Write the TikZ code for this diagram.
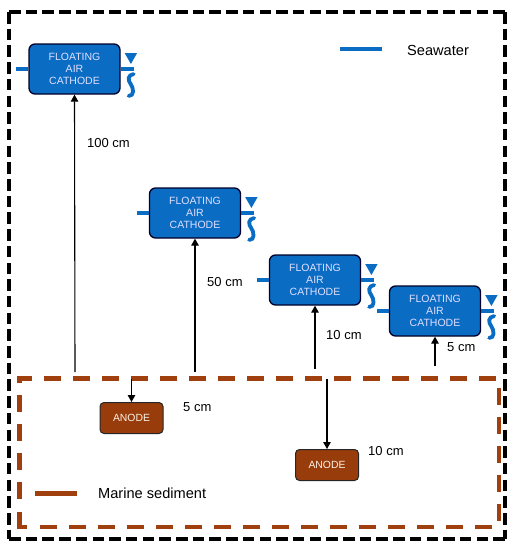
\documentclass[tikz,border=0pt]{standalone}
\usepackage{fontspec}
\setmainfont{Liberation Sans}
\usetikzlibrary{arrows.meta,calc}
\definecolor{blu}{HTML}{0B6CC4}
\definecolor{bro}{HTML}{A0400F}
\definecolor{anod}{HTML}{983C0C}
\tikzset{
 cath/.style={draw=black!85!blue,line width=1.3pt,fill=blu,rounded corners=6pt,minimum width=91pt,minimum height=50pt,inner sep=0pt,align=center,text=white!88!blue,font=\fontsize{10.5pt}{12.2pt}\selectfont},
 anodebox/.style={draw=black!85,line width=1pt,fill=anod,rounded corners=4pt,minimum width=63pt,minimum height=31pt,inner sep=0pt,text=white!90!orange,font=\fontsize{10.4pt}{11pt}\selectfont},
 lab/.style={inner sep=0pt,text=black,font=\fontsize{13pt}{14pt}\selectfont},
 leg/.style={inner sep=0pt,text=black,font=\fontsize{14.6pt}{16pt}\selectfont},
 arr/.style={-{Triangle[length=7pt,width=7.5pt]},line width=1.1pt,black},
 water/.style={blu,line width=3.8pt},
 sed/.style={bro,line width=4.3pt},
 blackframe/.style={draw=black,line width=4pt,dash pattern=on 11.5pt off 5.2pt},
}
\newcommand{\cathodeparts}[1]{%
 \draw[water] ($(#1.west)+(-12pt,0)$) -- (#1.west);
 \draw[water,line width=3.2pt] (#1.east) -- ++(13pt,0);
 \fill[blu] ($(#1.east)+(4pt,16pt)$) -- ++(12.5pt,0) -- ++(-6.25pt,-11pt) -- cycle;
 \draw[blu,line width=3.8pt,line cap=round] ($(#1.east)+(13pt,-5pt)$) .. controls ($(#1.east)+(7pt,-6pt)$) and ($(#1.east)+(7pt,-11pt)$) .. ($(#1.east)+(10pt,-15pt)$) .. controls ($(#1.east)+(13pt,-19pt)$) and ($(#1.east)+(14pt,-27pt)$) .. ($(#1.east)+(8pt,-27pt)$);
}
\begin{document}
\begin{tikzpicture}[x=1pt,y=-1pt]
\useasboundingbox (0,0) rectangle (519,550);
\coordinate (ftl) at (9,12);
\coordinate (ftr) at (505,12);
\coordinate (fbr) at (505,539);
\coordinate (fbl) at (9,539);
\draw[blackframe] (ftl) -- (ftr);
\draw[blackframe] (ftr) -- (fbr);
\draw[blackframe] (fbl) -- (fbr);
\draw[blackframe] (ftl) -- (fbl);

\foreach \k in {0,...,15} {\draw[sed] ({44+29*\k},378.5) -- ++(17,0);}
\draw[sed] (32,378.5) -- (19.5,378.5) -- (19.5,383);
\foreach \k in {0,...,3} {\draw[sed] (19.5,{395+29*\k}) -- ++(0,16.5);}
\draw[sed] (19.5,512) -- (19.5,527) -- (27,527);
\foreach \k in {0,...,15} {\draw[sed] ({40+29*\k},527) -- ++(17,0);}
\foreach \k in {0,...,4} {\draw[sed] (499,{388+29*\k}) -- ++(0,17);}

\node[cath] (c1) at (74.5,69) {FLOATING\\AIR\\CATHODE};
\node[cath] (c2) at (195,213) {FLOATING\\AIR\\CATHODE};
\node[cath] (c3) at (315,280) {FLOATING\\AIR\\CATHODE};
\node[cath] (c4) at (435,311) {FLOATING\\AIR\\CATHODE};
\cathodeparts{c1}
\cathodeparts{c2}
\cathodeparts{c3}
\cathodeparts{c4}

\node[anodebox] (a1) at (131.5,418) {ANODE};
\node[anodebox] (a2) at (327,465) {ANODE};

\coordinate (s1) at (75,372);
\coordinate (s2) at (195,372);
\coordinate (s3) at (315,369);
\coordinate (s4) at (435,366);
\coordinate (s5) at (131.5,379);
\coordinate (s6) at (327,379);
\draw[arr] (s1) -- (c1.south);
\draw[arr] (s2) -- (c2.south);
\draw[arr] (s3) -- (c3.south);
\draw[arr] (s4) -- (c4.south);
\draw[arr] (s5) -- (a1.north);
\draw[arr] (s6) -- (a2.north);

\node[lab,anchor=west] (l1) at (87,143) {100 cm};
\node[lab,anchor=west] (l2) at (207,282) {50 cm};
\node[lab,anchor=west] (l3) at (326,335) {10 cm};
\node[lab,anchor=west] (l4) at (447,347) {5 cm};
\node[lab,anchor=west] (l5) at (183,407) {5 cm};
\node[lab,anchor=west] (l6) at (368,451) {10 cm};

\coordinate (w1) at (340,49);
\coordinate (w2) at (382,49);
\draw[water] (w1) -- (w2);
\node[leg,anchor=west] (wl) at (407,50) {Seawater};
\coordinate (m1) at (35,493.5);
\coordinate (m2) at (77,493.5);
\draw[sed] (m1) -- (m2);
\node[leg,anchor=west] (ml) at (98,493.5) {Marine sediment};
\end{tikzpicture}
\end{document}
